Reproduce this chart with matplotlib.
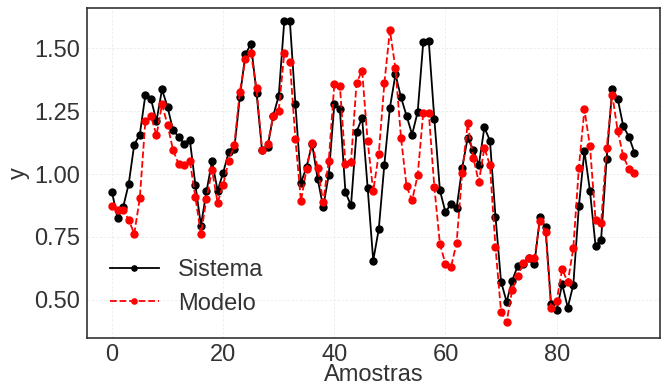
import matplotlib
matplotlib.use("Agg")
import matplotlib.pyplot as plt
import numpy as np

sistema = [0.928, 0.824, 0.868, 0.960, 1.117, 1.157, 1.314, 1.298, 1.211, 1.336,
           1.266, 1.173, 1.148, 1.120, 1.136, 0.957, 0.795, 0.931, 1.051, 0.934,
           1.005, 1.088, 1.100, 1.306, 1.476, 1.517, 1.324, 1.094, 1.108, 1.231,
           1.311, 1.609, 1.609, 1.277, 0.965, 1.028, 1.120, 0.981, 0.868, 0.997,
           1.277, 1.257, 0.928, 0.875, 1.168, 1.223, 0.944, 0.656, 0.781, 1.037,
           1.263, 1.396, 1.305, 1.231, 1.157, 1.247, 1.523, 1.527, 1.218, 0.935,
           0.848, 0.882, 0.864, 1.024, 1.144, 1.094, 1.035, 1.185, 1.133, 0.831,
           0.572, 0.492, 0.576, 0.635, 0.644, 0.665, 0.642, 0.828, 0.789, 0.483,
           0.459, 0.562, 0.469, 0.559, 0.871, 1.092, 0.932, 0.715, 0.739, 1.061,
           1.338, 1.298, 1.189, 1.149, 1.085]

modelo = [0.872, 0.855, 0.855, 0.819, 0.762, 0.904, 1.210, 1.231, 1.154, 1.277,
          1.194, 1.094, 1.039, 1.035, 1.053, 0.908, 0.761, 0.902, 1.016, 0.886,
          0.957, 1.053, 1.114, 1.327, 1.456, 1.480, 1.340, 1.094, 1.118, 1.229,
          1.251, 1.483, 1.447, 1.138, 0.892, 1.021, 1.124, 1.025, 0.888, 1.053,
          1.358, 1.351, 1.039, 1.048, 1.363, 1.411, 1.130, 0.931, 1.081, 1.360,
          1.572, 1.420, 1.144, 0.951, 0.896, 0.995, 1.243, 1.243, 0.947, 0.722,
          0.642, 0.631, 0.725, 1.005, 1.201, 1.065, 0.968, 1.104, 1.035, 0.709,
          0.453, 0.410, 0.540, 0.593, 0.646, 0.665, 0.665, 0.815, 0.771, 0.469,
          0.496, 0.622, 0.569, 0.705, 1.025, 1.257, 1.110, 0.818, 0.805, 1.104,
          1.316, 1.170, 1.070, 1.021, 1.005]

xticks = [0, 20, 40, 60, 80]
yticks = [0.50, 0.75, 1.00, 1.25, 1.50]
ytick_labels = ["0.50", "0.75", "1.00", "1.25", "1.50"]

plt.rcParams['font.family'] = ['Liberation Sans', 'DejaVu Sans']

fig = plt.figure(figsize=(6.67, 3.87), dpi=100)
ax = fig.add_axes([87/667, 1 - 338/387, (660 - 87)/667, (338 - 8)/387])

x = np.arange(len(sistema))
ax.plot(x, sistema, color='black', linestyle='-', linewidth=1.3, marker='o',
        markersize=5, label='Sistema', zorder=3)
ax.plot(x, modelo, color='red', linestyle='--', linewidth=1.3, marker='o',
        markersize=5, label='Modelo', zorder=4)

ax.set_xlim(-4.5, 98.6)
ax.set_ylim(0.348, 1.66)
ax.set_xticks(xticks)
ax.set_yticks(yticks)
ax.set_yticklabels(ytick_labels)

ax.grid(True, color='#ebebeb', linestyle=(0, (3, 2)), linewidth=0.6)
ax.set_axisbelow(True)
ax.tick_params(axis='both', length=0, labelsize=17, colors='#333333')
ax.tick_params(axis='x', pad=4)
ax.tick_params(axis='y', pad=5)
for s in ax.spines.values():
    s.set_color('#333333')
    s.set_linewidth(1.2)

ax.set_xlabel('Amostras', fontsize=17, color='#333333', labelpad=-1)
ax.set_ylabel('y', fontsize=17, color='#333333', labelpad=3)

leg = ax.legend(loc='lower left', frameon=False, fontsize=17, markerscale=0.75,
                handlelength=2.1, handletextpad=0.8, labelspacing=0.5,
                borderaxespad=0, bbox_to_anchor=(0.023, 0.042))
for t in leg.get_texts():
    t.set_color('#333333')

fig.savefig('out.png', dpi=100)
